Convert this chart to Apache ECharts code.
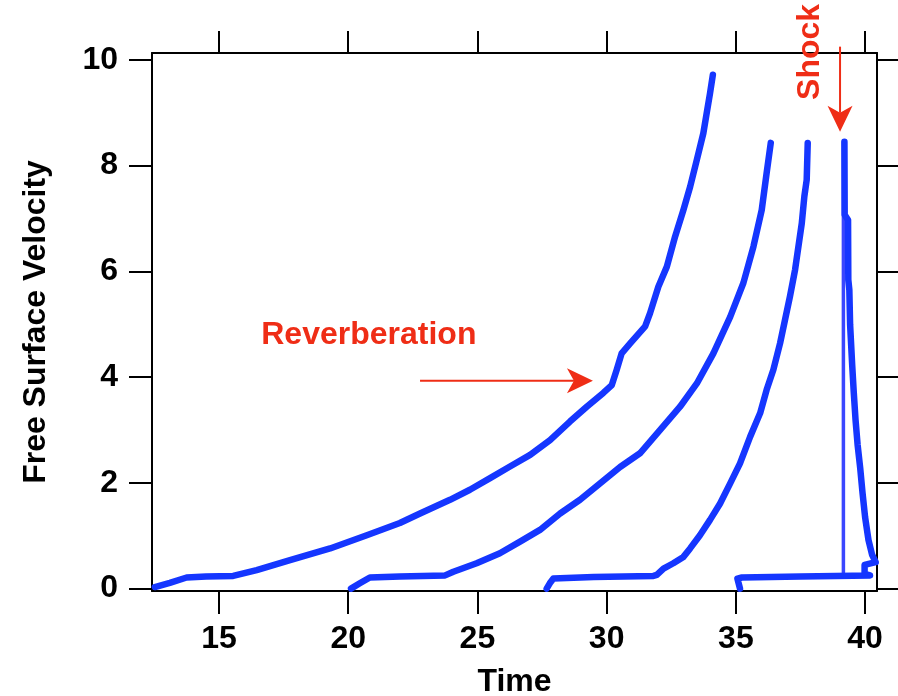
<!DOCTYPE html>
<html>
<head>
<meta charset="utf-8">
<script src="https://cdn.jsdelivr.net/npm/echarts@6/dist/echarts.min.js"></script>
<style>
  html, body { margin: 0; padding: 0; background: #ffffff; }
  #chart { width: 898px; height: 696px; }
</style>
</head>
<body>
<div id="chart"></div>
<script>
// Axis ticks
const xTicks = [15, 20, 25, 30, 35, 40];
const yTicks = [0, 2, 4, 6, 8, 10];

// Free surface velocity traces: [time, velocity]
const wave1 = [
  [12.52, 0.03], [13.10, 0.11], [13.75, 0.21], [14.50, 0.23], [15.55, 0.24],
  [16.46, 0.35], [17.75, 0.54], [19.30, 0.76], [20.72, 1.01], [22.00, 1.24],
  [22.78, 1.42], [23.94, 1.68], [24.71, 1.87], [25.49, 2.09], [26.26, 2.31],
  [27.04, 2.53], [27.81, 2.81], [28.58, 3.16], [29.23, 3.44], [29.87, 3.70],
  [30.20, 3.85], [30.39, 4.14], [30.58, 4.45], [30.91, 4.64], [31.49, 4.96],
  [31.68, 5.21], [32.00, 5.71], [32.33, 6.09], [32.65, 6.66], [32.97, 7.16],
  [33.23, 7.60], [33.49, 8.11], [33.74, 8.61], [33.87, 8.99], [34.00, 9.37],
  [34.11, 9.72]
];
const wave2 = [
  [20.11, 0.00], [20.45, 0.10], [20.84, 0.21], [22.00, 0.23], [23.75, 0.25],
  [24.07, 0.32], [24.97, 0.48], [25.87, 0.67], [26.65, 0.89], [27.42, 1.11],
  [28.20, 1.42], [28.97, 1.68], [29.74, 1.99], [30.52, 2.30], [31.29, 2.56],
  [32.07, 3.00], [32.84, 3.44], [33.49, 3.88], [34.13, 4.45], [34.78, 5.14],
  [35.29, 5.78], [35.68, 6.47], [36.00, 7.16], [36.19, 7.86], [36.35, 8.43]
];
const wave3 = [
  [27.68, 0.00], [27.80, 0.10], [27.94, 0.19], [29.50, 0.22], [31.81, 0.24],
  [31.94, 0.26], [32.20, 0.38], [32.58, 0.48], [32.97, 0.60], [33.23, 0.76],
  [33.61, 1.01], [34.00, 1.30], [34.39, 1.61], [34.78, 1.99], [35.16, 2.37],
  [35.55, 2.87], [35.94, 3.32], [36.19, 3.76], [36.45, 4.14], [36.71, 4.64],
  [36.90, 5.08], [37.09, 5.52], [37.29, 6.03], [37.42, 6.47], [37.55, 6.91],
  [37.65, 7.42], [37.74, 7.73], [37.78, 8.43]
];
const wave4 = [
  [35.16, 0.00], [35.06, 0.19], [35.23, 0.21], [37.50, 0.23], [40.19, 0.25],
  [39.98, 0.28], [39.98, 0.45], [40.41, 0.50], [40.27, 0.64], [40.13, 0.92],
  [40.00, 1.35], [39.90, 1.81], [39.81, 2.28], [39.71, 2.72], [39.63, 3.19],
  [39.56, 3.72], [39.50, 4.23], [39.42, 4.99], [39.39, 5.65], [39.35, 5.84],
  [39.34, 6.97], [39.21, 7.07], [39.20, 8.45]
];
// Shock jump at the rear surface
const shockJump = [[39.16, 0.25], [39.16, 8.45]];

// Annotation anchors in data units
const reverbArrow = [[22.78, 3.93], [29.47, 3.93]];
const reverbLabel = [20.80, 4.80];
const shockArrow = [[39.03, 10.25], [39.03, 8.64]];
const shockLabel = [37.87, 10.15];

const FONT = '"Liberation Sans", Arial, Helvetica, sans-serif';
const BLUE = '#1536ff';
const RED = '#ef2d16';

const chart = echarts.init(document.getElementById('chart'), null, { renderer: 'canvas' });

const axisLine = { show: true, onZero: false, lineStyle: { color: '#000', width: 2 } };
const tickStyle = { color: '#000', width: 2 };
const labelFont = { fontSize: 32, fontWeight: 'bold', color: '#000', fontFamily: FONT };

function trace(data, width, color) {
  return {
    type: 'line', data: data, showSymbol: false, smooth: false,
    xAxisIndex: 0, yAxisIndex: 0, animation: false, silent: true,
    lineStyle: { width: width, color: color, cap: 'round', join: 'round' }
  };
}

chart.setOption({
  animation: false,
  backgroundColor: '#ffffff',
  grid: { left: 152, right: 21, top: 53, bottom: 105, containLabel: false, outerBoundsMode: 'none' },
  xAxis: [
    {
      type: 'value', position: 'bottom', min: 12.41, max: 40.46,
      axisLine: axisLine,
      axisTick: { show: true, inside: false, length: 23, customValues: xTicks, lineStyle: tickStyle },
      axisLabel: Object.assign({ show: true, margin: 32, customValues: xTicks }, labelFont),
      splitLine: { show: false },
      name: 'Time', nameLocation: 'middle', nameGap: 75,
      nameTextStyle: labelFont
    },
    {
      type: 'value', position: 'top', min: 12.41, max: 40.46,
      axisLine: axisLine,
      axisTick: { show: true, inside: false, length: 22, customValues: xTicks, lineStyle: tickStyle },
      axisLabel: { show: false },
      splitLine: { show: false }
    }
  ],
  yAxis: [
    {
      type: 'value', position: 'left', min: -0.045, max: 10.13,
      axisLine: axisLine,
      axisTick: { show: true, inside: false, length: 23, customValues: yTicks, lineStyle: tickStyle },
      axisLabel: Object.assign({ show: true, margin: 34, padding: [3, 0, 0, 0], customValues: yTicks }, labelFont),
      splitLine: { show: false },
      name: 'Free Surface Velocity', nameLocation: 'middle', nameGap: 100, nameRotate: 90,
      nameTextStyle: labelFont
    },
    {
      type: 'value', position: 'right', min: -0.045, max: 10.13,
      axisLine: axisLine,
      axisTick: { show: true, inside: false, length: 22, customValues: yTicks, lineStyle: tickStyle },
      axisLabel: { show: false },
      splitLine: { show: false }
    }
  ],
  series: [
    trace(shockJump, 3.5, '#3a46ff'),
    trace(wave1, 6.5, BLUE),
    trace(wave2, 6.5, BLUE),
    trace(wave3, 6.5, BLUE),
    trace(wave4, 6.5, BLUE)
  ]
});

// Red annotations placed through the chart's own coordinate conversion
function px(p) { return chart.convertToPixel({ gridIndex: 0 }, p); }
function arrow(from, to) {
  const a = px(from), b = px(to);
  const dx = b[0] - a[0], dy = b[1] - a[1];
  const len = Math.sqrt(dx * dx + dy * dy);
  const ux = dx / len, uy = dy / len, nx = -uy, ny = ux;
  const headLen = 26, headHalf = 12.5, notch = 7;
  const base = [b[0] - ux * (headLen - notch), b[1] - uy * (headLen - notch)];
  return [
    { type: 'line', silent: true, z: 50,
      shape: { x1: a[0], y1: a[1], x2: base[0], y2: base[1] },
      style: { stroke: RED, lineWidth: 2 } },
    { type: 'polygon', silent: true, z: 50,
      shape: { points: [
        [b[0], b[1]],
        [b[0] - ux * headLen + nx * headHalf, b[1] - uy * headLen + ny * headHalf],
        base,
        [b[0] - ux * headLen - nx * headHalf, b[1] - uy * headLen - ny * headHalf]
      ] },
      style: { fill: RED } }
  ];
}
const rl = px(reverbLabel), sl = px(shockLabel);
chart.setOption({
  graphic: [].concat(
    arrow(reverbArrow[0], reverbArrow[1]),
    arrow(shockArrow[0], shockArrow[1]),
    [
      { type: 'text', silent: true, z: 50, x: rl[0], y: rl[1],
        style: { text: 'Reverberation', x: 0, y: 0, fill: RED, align: 'center', verticalAlign: 'middle',
                 fontSize: 32, fontWeight: 'bold', fontFamily: FONT } },
      { type: 'text', silent: true, z: 50, x: sl[0], y: sl[1], rotation: Math.PI / 2,
        style: { text: 'Shock', x: 0, y: 0, fill: RED, align: 'center', verticalAlign: 'middle',
                 fontSize: 32, fontWeight: 'bold', fontFamily: FONT } }
    ]
  )
});
</script>
</body>
</html>
